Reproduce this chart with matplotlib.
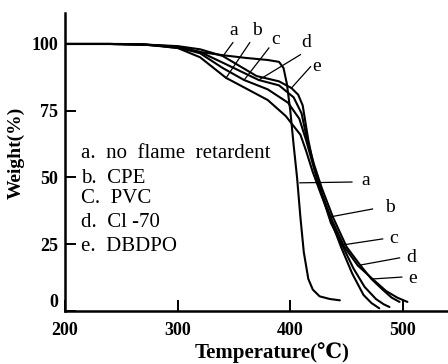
import matplotlib
matplotlib.use("Agg")
import matplotlib.pyplot as plt

plt.rcParams['font.family'] = ['Liberation Serif', 'DejaVu Serif']

# TGA curves: temperature (°C) vs weight (%)
temp_a = [200, 250, 280, 300, 320, 340, 360, 380, 390, 394, 397, 400, 403, 406, 409, 412, 416, 420, 426, 435, 444]
wt_a   = [100, 100, 99.5, 98.5, 97, 95.8, 94.8, 94, 93.3, 91, 85, 75, 62, 50, 35, 22, 12, 8, 5.5, 4.5, 4]

temp_b = [200, 240, 270, 300, 320, 343, 360, 380, 396, 409, 414, 420, 427, 435, 445, 455, 465, 472, 479]
wt_b   = [100, 100, 99.8, 98.5, 95, 87.3, 83.5, 79, 73, 66, 60, 52, 44, 35.2, 24, 14, 6, 3, 1]

temp_c = [200, 240, 270, 300, 320, 340, 359, 380, 398, 408, 414, 420, 427, 436, 446, 456, 466, 476, 483, 488]
wt_c   = [100, 100, 99.8, 98.8, 96.5, 91, 86.5, 83, 78, 72, 64, 55, 45, 33, 24.7, 16, 9, 4.5, 2.5, 1.5]

temp_d = [200, 240, 270, 300, 320, 340, 372, 390, 403, 410, 415, 421, 428, 438, 450, 462, 472, 482, 490, 497]
wt_d   = [100, 100, 99.8, 99, 97, 93, 86.5, 84.5, 80, 74, 64, 55, 46, 35, 24, 17.2, 12, 8, 5, 3.4]

temp_e = [200, 240, 270, 300, 320, 340, 370, 390, 401, 407, 411, 416, 421, 428, 437, 448, 460, 473, 485, 495, 504]
wt_e   = [100, 100, 99.8, 99.2, 98, 95.5, 88, 86, 83.5, 81, 77, 64, 54, 44, 34, 24, 17, 12, 7.5, 5, 3.4]

curve_keys = ["a", "b", "c", "d", "e"]
legend_lines = ["a.  no  flame  retardent", "b.  CPE", "C.  PVC", "d.  Cl -70", "e.  DBDPO"]

# label positions (text xy) and the curve point each leader touches
top_label_xy = [(350, 105.2), (370, 105.2), (387, 101.5), (414, 100.4), (423, 91.4)]
top_leader_start = [(349, 100.5), (364, 100.5), (381, 98.5), (409, 96), (418, 91.5)]
top_leader_end = [(341, 95.9), (343, 87.3), (359, 86.5), (372, 86.5), (401, 83.5)]

right_label_xy = [(463.5, 48.7), (484, 38.6), (488, 27.3), (502.6, 19.9), (505, 12)]
right_leader_start = [(408.5, 48), (435, 35.2), (446, 24.7), (462, 17.2), (473, 12)]
right_leader_end = [(454.7, 48.3), (473, 38.2), (482, 27), (497, 19.9), (499, 12.7)]

fig = plt.figure(figsize=(4.48, 3.64), dpi=100)
ax = fig.add_axes([65 / 448, 53 / 364, (448 - 65) / 448, (311 - 13) / 364])

for t, w in [(temp_a, wt_a), (temp_b, wt_b), (temp_c, wt_c), (temp_d, wt_d), (temp_e, wt_e)]:
    ax.plot(t, w, color="black", lw=1.5, solid_capstyle="round")

for key, xy, s, e in zip(curve_keys, top_label_xy, top_leader_start, top_leader_end):
    ax.plot([s[0], e[0]], [s[1], e[1]], color="black", lw=0.9)
    ax.text(xy[0], xy[1], key, ha="center", va="center", fontsize=14)

for key, xy, s, e in zip(curve_keys, right_label_xy, right_leader_start, right_leader_end):
    ax.plot([s[0], e[0]], [s[1], e[1]], color="black", lw=0.9)
    ax.text(xy[0], xy[1], key, ha="left", va="center", fontsize=14)

legend_y = [58.8, 49.5, 42, 33.3, 24.3]
for txt, yy in zip(legend_lines, legend_y):
    ax.text(214, yy, txt, ha="left", va="center", fontsize=15)

ax.set_xlim(200, 540)
ax.set_ylim(0, 111.6)
ax.set_xticks([200, 300, 400, 500])
ax.set_yticks([0, 25, 50, 75, 100])
ax.tick_params(direction="in", length=8, width=1.4, labelsize=13)
ax.tick_params(axis="x", pad=8)
ax.tick_params(axis="y", pad=5)
for lbl in ax.get_xticklabels() + ax.get_yticklabels():
    lbl.set_fontweight("bold")
ax.get_yticklabels()[0].set_va("bottom")
for side in ["top", "right"]:
    ax.spines[side].set_visible(False)
for side in ["left", "bottom"]:
    ax.spines[side].set_linewidth(1.8)

ax.set_xlabel("Temperature(℃)", fontsize=15, fontweight="bold")
ax.xaxis.set_label_coords(0.54, -0.105)
ax.set_ylabel("Weight(%)", fontsize=14, fontweight="bold")
ax.yaxis.set_label_coords(-0.105, 0.53)

fig.savefig("out.png", dpi=100)
